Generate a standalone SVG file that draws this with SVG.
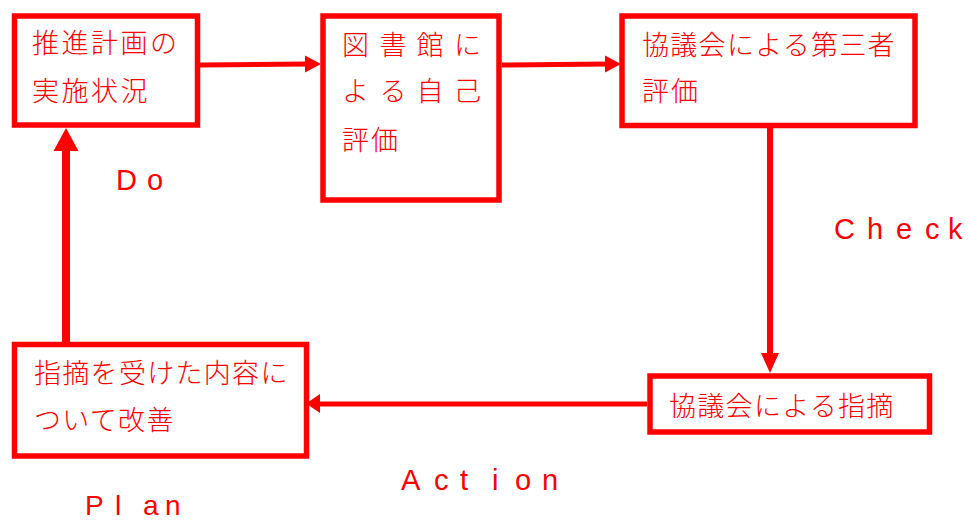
<svg xmlns="http://www.w3.org/2000/svg" width="970" height="522" viewBox="0 0 970 522">
<style>
.box{fill:#fff;stroke:#ff0000;stroke-width:5.5}
.jp{font-family:"Noto Sans CJK JP","Noto Sans CJK SC",sans-serif;font-size:27px;font-weight:300;fill:#ff0000;letter-spacing:1.3px}
.en{font-family:"Liberation Sans",Arial,sans-serif;font-size:29px;fill:#ff0000}
.ln{stroke:#ff0000;fill:none}
.hd{fill:#ff0000}
</style>
<rect width="970" height="522" fill="#fff"/>
<g id="connectors">
<line class="ln" x1="200" y1="65" x2="308" y2="64" stroke-width="5"/>
<polygon class="hd" points="321,64 305,55.5 305,72.5"/>
<line class="ln" x1="502" y1="65" x2="608" y2="64" stroke-width="5"/>
<polygon class="hd" points="621,64 605,55.5 605,72.5"/>
<line class="ln" x1="770" y1="128" x2="770" y2="356" stroke-width="6"/>
<polygon class="hd" points="770,373 761,353 779,353"/>
<line class="ln" x1="647" y1="404" x2="318" y2="404" stroke-width="5"/>
<polygon class="hd" points="306,403.5 320,394 320,413"/>
<line class="ln" x1="66" y1="342" x2="66" y2="146" stroke-width="8"/>
<polygon class="hd" points="66,128 53.5,151 78.5,151"/>
</g>
<g id="node-1">
<rect class="box" x="14.5" y="16" width="183" height="109"/>
<text class="jp" x="32" y="53" style="letter-spacing:2.5px">推進計画の</text>
<text class="jp" x="32" y="101" style="letter-spacing:2.5px">実施状況</text>
</g>
<g id="node-2">
<rect class="box" x="323" y="16" width="176" height="184"/>
<text class="jp" x="342 379.5 416.5 454" y="55">図書館に</text>
<text class="jp" x="342 379.5 416.5 454" y="101">よる自己</text>
<text class="jp" x="342" y="150" style="letter-spacing:2px">評価</text>
</g>
<g id="node-3">
<rect class="box" x="622" y="16" width="293" height="109.5"/>
<text class="jp" x="642" y="55">協議会による第三者</text>
<text class="jp" x="642" y="101" style="letter-spacing:2px">評価</text>
</g>
<g id="node-4">
<rect class="box" x="650" y="376" width="279.5" height="56"/>
<text class="jp" x="669" y="416">協議会による指摘</text>
</g>
<g id="node-5">
<rect class="box" x="14.5" y="344.5" width="292" height="111.5"/>
<text class="jp" x="34" y="383">指摘を受けた内容に</text>
<text class="jp" x="34" y="430">ついて改善</text>
</g>
<g id="labels">
<text class="en" x="116 147" y="190">Do</text>
<text class="en" x="834 867 896 925 948" y="239">Check</text>
<text class="en" x="401 434 460 492 515 542" y="490">Action</text>
<text class="en" x="85 115 143 165" y="515" style="font-size:28px">Plan</text>
</g>
</svg>
